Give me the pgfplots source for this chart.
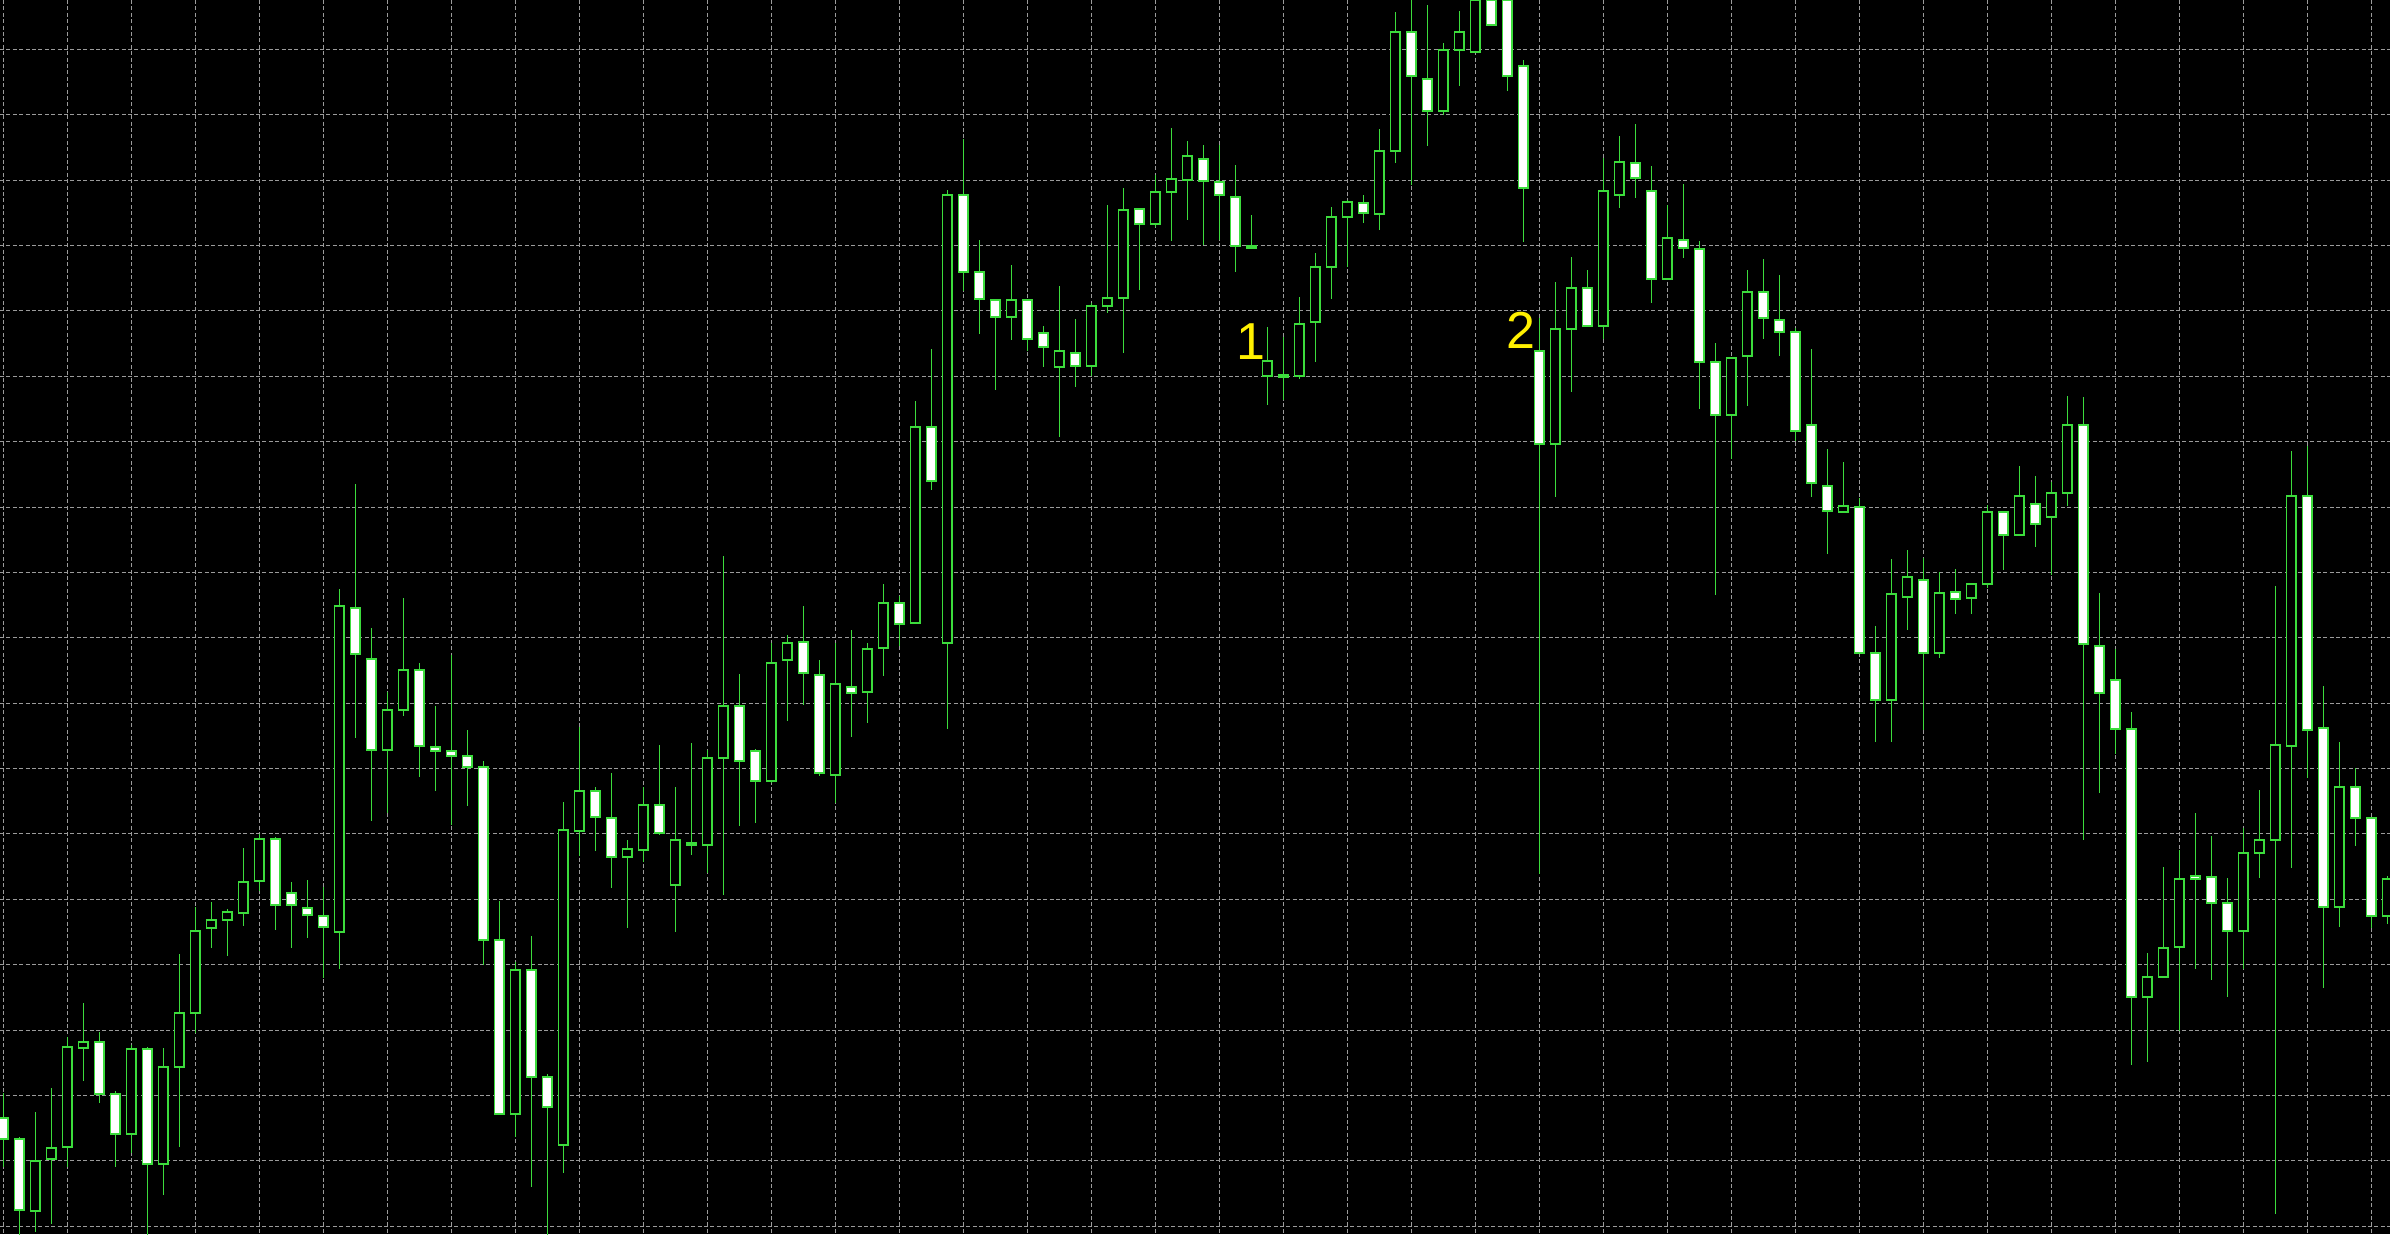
\documentclass[border=0pt]{standalone}
\usepackage{pgfplots}
\usepackage{pgfplotstable}
\usepackage{fontspec}
\setmainfont{Liberation Sans}
\pgfplotsset{compat=1.18}
\definecolor{cgreen}{RGB}{60,220,60}
\definecolor{cgrid}{RGB}{155,155,155}
\definecolor{cyellow}{RGB}{255,240,0}

% i = bar index, top = body top (px from top), bu = bullish body height, be = bearish body height, wt/wb = wick top/bottom
\pgfplotstableread{
i top bu be wt wb
0 1118 0 21 1093 1167
1 1139 0 71 1137 1240
2 1161 50 0 1112 1232
3 1148 11 0 1088 1224
4 1047 100 0 1037 1167
5 1042 6 0 1003 1081
6 1042 0 52 1032 1103
7 1094 0 40 1091 1167
8 1049 85 0 1045 1153
9 1049 0 115 1047 1240
10 1067 97 0 1048 1195
11 1013 54 0 954 1147
12 931 82 0 907 1033
13 920 8 0 902 948
14 912 8 0 909 956
15 882 31 0 848 926
16 839 42 0 834 891
17 839 0 66 837 930
18 893 0 12 882 948
19 908 0 7 880 938
20 916 0 11 887 978
21 606 326 0 589 969
22 608 0 46 484 738
23 659 0 91 628 821
24 710 40 0 692 813
25 670 40 0 598 716
26 670 0 76 663 777
27 747 0 4 706 791
28 751 0 5 655 825
29 756 0 11 730 806
30 767 0 173 761 965
31 940 0 174 901 1114
32 970 144 0 962 1137
33 970 0 107 936 1187
34 1077 0 30 1074 1240
35 830 315 0 802 1173
36 791 40 0 727 856
37 791 0 26 787 851
38 818 0 39 773 888
39 849 8 0 840 928
40 805 45 0 787 862
41 805 0 28 745 835
42 840 45 0 787 932
43 843 0 2 743 855
44 758 87 0 750 873
45 706 52 0 556 895
46 706 0 55 674 826
47 751 0 30 749 823
48 663 118 0 643 783
49 643 17 0 635 721
50 642 0 31 606 705
51 675 0 98 660 776
52 684 91 0 643 803
53 687 0 6 630 737
54 649 43 0 643 723
55 603 45 0 584 676
56 603 0 21 596 646
57 427 196 0 401 623
58 427 0 54 349 490
59 195 448 0 190 729
60 195 0 77 139 291
61 272 0 27 240 334
62 300 0 17 300 390
63 300 17 0 265 340
64 300 0 39 300 351
65 333 0 14 326 367
66 351 16 0 286 437
67 353 0 13 319 387
68 306 60 0 303 376
69 298 8 0 205 313
70 210 88 0 188 353
71 209 0 15 209 290
72 192 32 0 175 227
73 179 13 0 128 241
74 156 24 0 141 220
75 159 0 22 145 245
76 182 0 13 145 240
77 197 0 49 165 272
78 246 0 2 215 248
79 361 15 0 327 405
80 375 0 2 337 400
81 324 52 0 297 379
82 267 55 0 253 362
83 217 50 0 207 299
84 202 15 0 200 267
85 203 0 10 195 223
86 151 63 0 129 230
87 32 119 0 12 163
88 32 0 44 -10 185
89 79 0 32 5 146
90 50 61 0 43 115
91 32 18 0 11 86
92 -20 52 0 -30 50
93 -30 0 25 -40 12
94 -10 0 76 -15 91
95 66 0 122 60 242
96 351 0 93 318 874
97 329 115 0 282 497
98 288 41 0 257 392
99 288 0 38 270 326
100 191 135 0 158 339
101 162 33 0 136 208
102 163 0 15 124 198
103 191 0 88 166 303
104 238 41 0 205 279
105 240 0 8 184 258
106 249 0 113 241 409
107 362 0 53 343 595
108 358 57 0 357 459
109 292 64 0 270 406
110 292 0 26 259 339
111 320 0 12 275 356
112 332 0 99 328 441
113 425 0 58 349 497
114 486 0 25 449 554
115 506 6 0 462 513
116 507 0 146 498 653
117 653 0 47 626 742
118 594 106 0 559 742
119 577 20 0 550 630
120 580 0 73 558 730
121 593 60 0 572 658
122 592 0 7 569 614
123 584 14 0 583 614
124 512 72 0 505 588
125 512 0 23 511 570
126 496 39 0 466 535
127 504 0 20 476 547
128 493 24 0 482 575
129 425 68 0 396 506
130 425 0 219 397 840
131 646 0 47 593 793
132 680 0 49 649 754
133 729 0 268 712 1065
134 977 20 0 953 1062
135 948 29 0 867 978
136 879 68 0 850 1031
137 876 0 3 813 969
138 877 0 26 836 980
139 903 0 28 878 997
140 853 78 0 828 969
141 840 13 0 790 878
142 745 95 0 586 1214
143 496 250 0 451 868
144 496 0 234 446 778
145 728 0 179 686 988
146 787 120 0 742 927
147 787 0 31 768 846
148 818 0 98 817 928
149 879 37 0 876 924
}\data

\pgfplotsset{base/.style={
  scale only axis, width=597.5pt, height=308.5pt,
  xmin=-0.20625, xmax=149.16875, ymin=0, ymax=1234, y dir=reverse,
  axis line style={draw=none},
  xtick style={draw=none}, ytick style={draw=none},
  xticklabels={}, yticklabels={},
}}

\begin{document}
\begin{tikzpicture}
\begin{axis}[base,
  axis background/.style={fill=black},
  xtick={0,4,...,148},
  ytick={49.3,114.69,...,1230},
  grid=major,
  grid style={draw=cgrid, line width=0.25pt, dash pattern=on 1pt off 0.6pt},
]
\coordinate (SW) at (rel axis cs:0,0);
\coordinate (NE) at (rel axis cs:1,1);
\addplot[draw=none, mark=none,
  error bars/.cd, y dir=plus, y explicit, error mark=none,
  error bar style={draw=cgreen, line width=0.4pt, solid}]
  table[x=i, y=wt, y error plus expr={\thisrow{wb}-\thisrow{wt}}] {\data};
\end{axis}
\begin{axis}[base, hide axis, ybar stacked, bar width=0.58]
\addplot[draw=none, fill=none] table[x=i, y=top] {\data};
\addplot[draw=cgreen, fill=black, line width=0.4pt] table[x=i, y=bu] {\data};
\addplot[draw=cgreen, fill=white, line width=0.4pt] table[x=i, y=be] {\data};
\node[text=cyellow, font=\fontsize{13}{13}\selectfont, inner sep=0pt, anchor=center] at (axis cs:78.0,341.5) {1};
\node[text=cyellow, font=\fontsize{13}{13}\selectfont, inner sep=0pt, anchor=center] at (axis cs:94.86,330) {2};
\end{axis}
\pgfresetboundingbox
\useasboundingbox (SW) rectangle (NE);
\end{tikzpicture}
\end{document}
